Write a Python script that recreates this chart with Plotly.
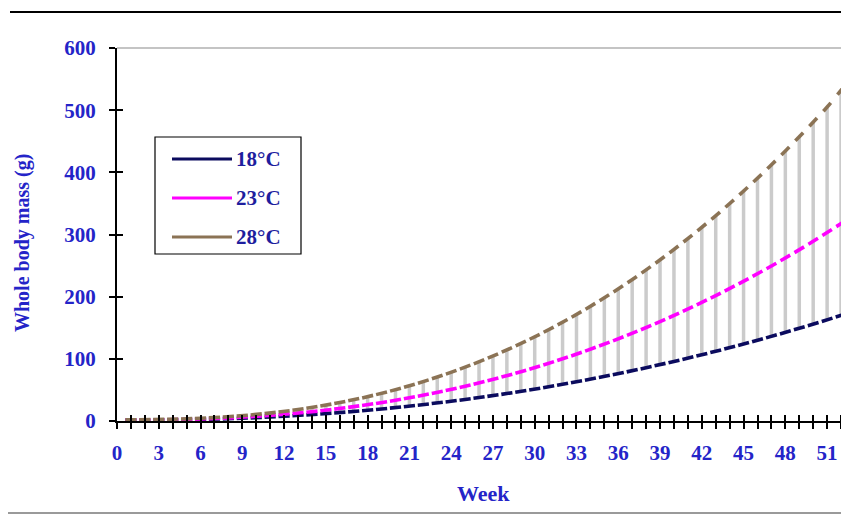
import numpy as np
import plotly.graph_objects as go

# ---- data ----
weeks = list(range(1, 53))
mass_18 = [1.0, 1.1, 1.3, 1.6, 2.0, 2.5, 3.0, 3.7, 4.5, 5.5, 6.5, 7.7, 9.0, 10.4, 12.0, 13.6,
           15.4, 17.4, 19.4, 21.6, 24.0, 26.4, 29.1, 31.8, 34.7, 37.8, 40.9, 44.2, 47.7, 51.3,
           55.1, 59.0, 63.1, 67.3, 71.7, 76.2, 80.9, 85.7, 90.7, 95.8, 101.1, 106.6, 112.2,
           117.9, 123.8, 129.9, 136.2, 142.6, 149.2, 155.9, 162.8, 170.0]
mass_23 = [1.5, 1.6, 1.8, 2.2, 2.7, 3.3, 4.1, 5.0, 6.2, 7.6, 9.1, 10.9, 12.8, 15.0, 17.4, 20.2,
           23.1, 26.3, 29.7, 33.4, 37.4, 41.6, 46.1, 50.9, 56.0, 61.4, 67.1, 73.0, 79.3, 85.9,
           92.8, 100.1, 107.6, 115.5, 123.7, 132.2, 141.1, 150.3, 159.9, 169.8, 180.1, 190.8,
           201.8, 213.2, 224.9, 237.0, 249.4, 262.3, 275.5, 289.1, 303.2, 317.5]
mass_28 = [2.0, 2.2, 2.4, 2.9, 3.5, 4.4, 5.5, 6.9, 8.6, 10.6, 12.9, 15.5, 18.5, 21.9, 25.6, 29.7,
           34.3, 39.2, 44.6, 50.4, 56.7, 63.5, 70.7, 78.4, 86.6, 95.3, 104.6, 114.3, 124.6, 135.5,
           146.9, 158.9, 171.4, 184.5, 198.3, 212.6, 227.5, 243.1, 259.2, 276.0, 293.5, 311.6,
           330.3, 349.8, 369.9, 390.6, 412.1, 434.3, 457.1, 480.7, 505.0, 532.0]
series_names = ["18°C", "23°C", "28°C"]
x_tick_labels = [str(v) for v in range(0, 52, 3)]
y_tick_labels = [str(v) for v in range(0, 601, 100)]

# ---- layout constants (page has an 8px body margin) ----
OFF = 8
W, H = 849 - OFF, 516 - OFF
L, R, T, B = 117 - OFF, 848 - OFF, 48 - OFF, 421 - OFF
XMAX, YMAX = 52.5, 600
colors = ["#0b0b5e", "#ff00ff", "#8b7355"]
blue = "#2424c8"
font_fam = "Liberation Serif"

kx = (R - L) / XMAX
ky = (B - T) / YMAX

def px(xp):  # reference screen x -> paper
    return (xp - OFF - L) / (R - L)

def py(yp):  # reference screen y -> paper
    return (B - (yp - OFF)) / (B - T)

fig = go.Figure()

# high-low lines between 18°C and 28°C
hx, hy = [], []
for w, lo, hi in zip(weeks, mass_18, mass_28):
    hx += [w, w, None]
    hy += [lo, hi, None]
fig.add_trace(go.Scatter(x=hx, y=hy, mode="lines", line=dict(color="#cbcbcb", width=3.5),
                         hoverinfo="skip", showlegend=False))

for name, vals, col in zip(series_names, [mass_18, mass_23, mass_28], colors):
    v = np.array(vals, dtype=float)
    slope = np.gradient(v, np.array(weeks, dtype=float))
    ang = -np.degrees(np.arctan(slope * ky / kx))
    fig.add_trace(go.Scatter(
        x=weeks, y=vals, mode="markers", name=name, showlegend=False,
        marker=dict(symbol="line-ew", size=8, angle=ang.tolist(),
                    line=dict(color=col, width=3.6), color=col),
        cliponaxis=False))

tick_font = dict(family=font_fam, size=21, color=blue, weight="bold")

fig.update_layout(
    width=W, height=H,
    margin=dict(l=L, r=W - R, t=T, b=H - B, autoexpand=False),
    paper_bgcolor="white", plot_bgcolor="white",
    showlegend=False,
    font=dict(family=font_fam, color=blue),
    xaxis=dict(range=[0, XMAX], tickvals=list(range(0, 52, 3)), ticktext=x_tick_labels,
               ticks="outside", ticklen=6, tickwidth=2, tickcolor="black",
               minor=dict(dtick=1, tick0=0, ticks="outside", ticklen=6, tickwidth=2, tickcolor="black"),
               showline=True, linecolor="black", linewidth=2, showgrid=False, zeroline=False,
               tickfont=tick_font, ticklabelstandoff=6),
    xaxis2=dict(range=[0, XMAX], overlaying="x", anchor="y", showticklabels=False,
                tickvals=list(range(0, 52, 3)),
                ticks="inside", ticklen=6, tickwidth=2, tickcolor="black",
                minor=dict(dtick=1, tick0=0, ticks="inside", ticklen=6, tickwidth=2, tickcolor="black"),
                showline=False, showgrid=False, zeroline=False),
    yaxis=dict(range=[0, YMAX], tickvals=list(range(0, 601, 100)), ticktext=y_tick_labels,
               ticks="outside", ticklen=6, tickwidth=2, tickcolor="black",
               showline=True, linecolor="black", linewidth=2, showgrid=False, zeroline=False,
               tickfont=tick_font, ticklabelstandoff=9),
    yaxis2=dict(range=[0, YMAX], overlaying="y", anchor="x", showticklabels=False,
                tickvals=list(range(0, 601, 100)),
                ticks="inside", ticklen=6, tickwidth=2, tickcolor="black",
                showline=False, showgrid=False, zeroline=False),
)

# dummy traces to activate overlay axes
fig.add_trace(go.Scatter(x=[None], y=[None], xaxis="x2", yaxis="y", showlegend=False, hoverinfo="skip"))
fig.add_trace(go.Scatter(x=[None], y=[None], xaxis="x", yaxis="y2", showlegend=False, hoverinfo="skip"))

shapes = []
# plot area border (top, right)
shapes.append(dict(type="line", xref="paper", yref="paper", x0=0, x1=1, y0=1, y1=1,
                   line=dict(color="#8a8a8a", width=1.2)))
shapes.append(dict(type="line", xref="paper", yref="paper", x0=1, x1=1, y0=0, y1=1,
                   line=dict(color="#8a8a8a", width=1.2)))
# top black rule and bottom gray rule
shapes.append(dict(type="line", xref="paper", yref="paper", x0=px(10), x1=px(849), y0=py(12), y1=py(12),
                   line=dict(color="black", width=2)))
shapes.append(dict(type="line", xref="paper", yref="paper", x0=px(8), x1=px(849), y0=py(513), y1=py(513),
                   line=dict(color="#9a9a9a", width=2)))
# legend box
shapes.append(dict(type="rect", xref="paper", yref="paper", x0=px(155), x1=px(301), y0=py(254), y1=py(137),
                   line=dict(color="black", width=1.2), fillcolor="white"))
annotations = []
rows = [159, 198, 237]
for name, col, yy in zip(series_names, colors, rows):
    shapes.append(dict(type="line", xref="paper", yref="paper", x0=px(172), x1=px(232), y0=py(yy), y1=py(yy),
                       line=dict(color=col, width=3)))
    annotations.append(dict(text=f"<b>{name}</b>", xref="paper", yref="paper", x=px(234), y=py(yy),
                            xanchor="left", yanchor="middle", showarrow=False,
                            font=dict(family=font_fam, size=21, color="#1e1e9e")))

annotations.append(dict(text="<b>Week</b>", xref="paper", yref="paper", x=px(483), y=py(494),
                        xanchor="center", yanchor="middle", showarrow=False,
                        font=dict(family=font_fam, size=22, color=blue)))
annotations.append(dict(text="<b>Whole body mass (g)</b>", xref="paper", yref="paper", x=px(22), y=py(243),
                        xanchor="center", yanchor="middle", showarrow=False, textangle=-90,
                        font=dict(family=font_fam, size=20, color=blue)))

fig.update_layout(shapes=shapes, annotations=annotations)
fig.write_html("out.html")
